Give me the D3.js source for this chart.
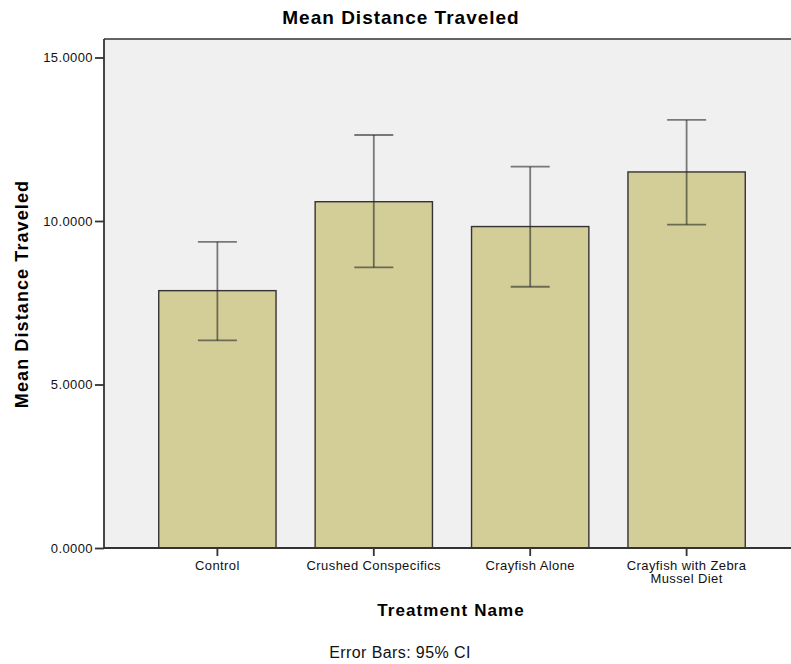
<!DOCTYPE html>
<html>
<head>
<meta charset="utf-8">
<script src="https://cdn.jsdelivr.net/npm/d3@7/dist/d3.min.js"></script>
<style>
  body { margin: 0; background: #fff; }
  text { font-family: "Liberation Sans", Arial, sans-serif; }
</style>
</head>
<body>
<div id="chart"></div>
<script>
var categories = ["Control", "Crushed Conspecifics", "Crayfish Alone", "Crayfish with Zebra Mussel Diet"];
var means      = [7.87, 10.59, 9.83, 11.50];
var ciLow      = [6.35, 8.58, 7.99, 9.89];
var ciHigh     = [9.36, 12.63, 11.66, 13.09];
var yTicks     = [0, 5, 10, 15];

var width = 791, height = 664;
var plotLeft = 104, plotRight = 800, plotTop = 39, plotBottom = 548;

var svg = d3.select("#chart").append("svg")
    .attr("width", width)
    .attr("height", height);

var x = d3.scaleBand()
    .domain(categories)
    .range([plotLeft, plotRight])
    .paddingInner(0.25)
    .paddingOuter(0.35);

var y = d3.scaleLinear()
    .domain([0, 15])
    .range([plotBottom, 57.5]);

var data = categories.map(function(c, i) {
    return { name: c, mean: means[i], lo: ciLow[i], hi: ciHigh[i] };
});

// plot background
svg.append("rect")
    .attr("x", plotLeft)
    .attr("y", plotTop)
    .attr("width", plotRight - plotLeft)
    .attr("height", plotBottom - plotTop)
    .attr("fill", "#f0f0f0");

svg.append("line")
    .attr("x1", plotLeft).attr("x2", plotRight)
    .attr("y1", plotTop).attr("y2", plotTop)
    .attr("stroke", "#333").attr("stroke-width", 1.6);

// bars
svg.selectAll(".bar")
    .data(data)
    .enter().append("rect")
    .attr("class", "bar")
    .attr("x", function(d) { return x(d.name); })
    .attr("width", x.bandwidth())
    .attr("y", function(d) { return y(d.mean); })
    .attr("height", function(d) { return y(0) - y(d.mean); })
    .attr("fill", "#d3ce97")
    .attr("stroke", "#333")
    .attr("stroke-width", 1.4);

// error bars
var capW = 39;
var cx = function(d) { return x(d.name) + x.bandwidth() / 2; };
var eb = svg.selectAll(".err")
    .data(data)
    .enter().append("g")
    .attr("class", "err")
    .attr("stroke", "rgba(40,40,40,0.6)")
    .attr("stroke-width", 1.8);

eb.append("line")
    .attr("x1", cx).attr("x2", cx)
    .attr("y1", function(d) { return y(d.hi); })
    .attr("y2", function(d) { return y(d.lo); });

eb.append("line")
    .attr("x1", function(d) { return cx(d) - capW / 2; })
    .attr("x2", function(d) { return cx(d) + capW / 2; })
    .attr("y1", function(d) { return y(d.hi); })
    .attr("y2", function(d) { return y(d.hi); });

eb.append("line")
    .attr("x1", function(d) { return cx(d) - capW / 2; })
    .attr("x2", function(d) { return cx(d) + capW / 2; })
    .attr("y1", function(d) { return y(d.lo); })
    .attr("y2", function(d) { return y(d.lo); });

// axes
var yAxis = d3.axisLeft(y).tickValues(yTicks).tickSize(9).tickPadding(2)
    .tickFormat(d3.format(".4f"));
var gy = svg.append("g")
    .attr("transform", "translate(" + plotLeft + ",0)")
    .call(yAxis);

var xAxis = d3.axisBottom(x).tickSize(8).tickPadding(5);
var gx = svg.append("g")
    .attr("transform", "translate(0," + plotBottom + ")")
    .call(xAxis);

gy.select(".domain").attr("d", "M0," + plotTop + "V" + plotBottom);
gx.select(".domain").attr("d", "M" + plotLeft + ",0H" + plotRight);

svg.selectAll(".domain").attr("stroke", "#333").attr("stroke-width", 1.8);
svg.selectAll(".tick line").attr("stroke", "#333").attr("stroke-width", 1.8);
svg.selectAll(".tick text")
    .attr("fill", "#111")
    .style("font-family", "'Liberation Sans', Arial, sans-serif")
    .style("font-size", "13px")
    .style("letter-spacing", "0.4px");

// wrap long x label
gx.selectAll(".tick text").each(function(d) {
    if (d === "Crayfish with Zebra Mussel Diet") {
        var t = d3.select(this);
        t.text(null);
        t.append("tspan").attr("x", 0).attr("dy", "0.71em").text("Crayfish with Zebra");
        t.append("tspan").attr("x", 0).attr("dy", "0.95em").text("Mussel Diet");
    }
});

// titles
svg.append("text")
    .attr("x", 401).attr("y", 24)
    .attr("text-anchor", "middle")
    .style("font-size", "19px").style("font-weight", "bold")
    .style("letter-spacing", "1px")
    .attr("fill", "#000")
    .text("Mean Distance Traveled");

svg.append("text")
    .attr("transform", "translate(28,294) rotate(-90)")
    .attr("text-anchor", "middle")
    .style("font-size", "18px").style("font-weight", "bold")
    .style("letter-spacing", "1.1px")
    .attr("fill", "#000")
    .text("Mean Distance Traveled");

svg.append("text")
    .attr("x", 451).attr("y", 616)
    .attr("text-anchor", "middle")
    .style("font-size", "17px").style("font-weight", "bold")
    .style("letter-spacing", "1.1px")
    .attr("fill", "#000")
    .text("Treatment Name");

svg.append("text")
    .attr("x", 400).attr("y", 658)
    .attr("text-anchor", "middle")
    .style("font-size", "16px")
    .style("letter-spacing", "0.4px")
    .attr("fill", "#111")
    .text("Error Bars: 95% CI");
</script>
</body>
</html>
